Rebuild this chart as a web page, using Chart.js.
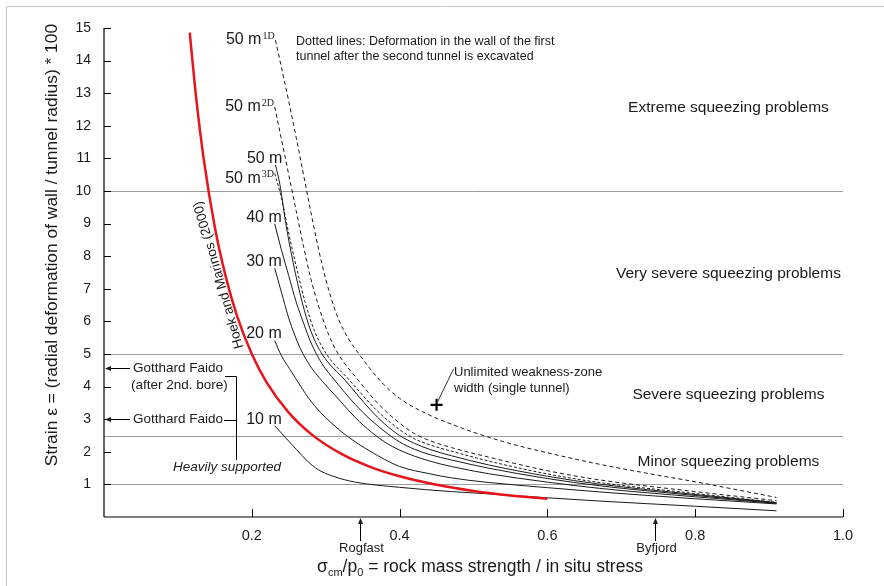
<!DOCTYPE html>
<html>
<head>
<meta charset="utf-8">
<script src="https://cdn.jsdelivr.net/npm/chart.js@4.4.1/dist/chart.umd.min.js"></script>
<style>
  html, body { margin: 0; padding: 0; background: #fff; }
  #wrap { width: 884px; height: 586px; }
</style>
</head>
<body>
<div id="wrap"><canvas id="chart" width="884" height="586"></canvas></div>
<script>
// values (x = sigma_cm/p0, y = strain %)
const xRed = [0.116, 0.125, 0.135, 0.15, 0.165, 0.18, 0.2, 0.22, 0.25, 0.28, 0.32, 0.36, 0.4, 0.45, 0.5, 0.55, 0.6];
const yRed = [14.86, 12.8, 10.97, 8.89, 7.35, 6.17, 5.0, 4.13, 3.2, 2.55, 1.95, 1.54, 1.25, 0.99, 0.8, 0.66, 0.56];

const x10 = [0.231, 0.245, 0.26, 0.275, 0.29, 0.31, 0.34, 0.4, 0.47, 0.52, 0.6, 0.67, 0.8, 0.91];
const y10 = [2.80, 2.45, 2.08, 1.72, 1.45, 1.25, 1.07, 0.91, 0.78, 0.71, 0.59, 0.49, 0.33, 0.19];

const x20 = [0.231, 0.24, 0.251, 0.265, 0.28, 0.3, 0.328, 0.36, 0.4, 0.44, 0.47, 0.52, 0.6, 0.67, 0.8, 0.91];
const y20 = [5.41, 4.95, 4.55, 4.05, 3.55, 3.05, 2.5, 2.02, 1.55, 1.33, 1.2, 1.06, 0.9, 0.77, 0.56, 0.40];

const x30 = [0.231, 0.24, 0.25, 0.265, 0.28, 0.296, 0.32, 0.34, 0.362, 0.38, 0.4, 0.44, 0.47, 0.52, 0.6, 0.67, 0.8, 0.91];
const y30 = [7.63, 6.9, 6.1, 5.2, 4.6, 4.15, 3.55, 3.05, 2.6, 2.3, 2.05, 1.72, 1.55, 1.33, 1.07, 0.88, 0.62, 0.42];

const x40 = [0.231, 0.24, 0.25, 0.26, 0.27, 0.28, 0.295, 0.312, 0.34, 0.36, 0.384, 0.4, 0.42, 0.44, 0.47, 0.52, 0.6, 0.67, 0.8, 0.91];
const y40 = [8.99, 8.2, 7.4, 6.6, 5.95, 5.35, 4.7, 4.2, 3.45, 3.0, 2.55, 2.3, 2.08, 1.92, 1.75, 1.5, 1.18, 0.96, 0.66, 0.43];

const x50 = [0.232, 0.238, 0.246, 0.256, 0.268, 0.28, 0.295, 0.326, 0.36, 0.38, 0.4, 0.42, 0.44, 0.47, 0.52, 0.6, 0.67, 0.8, 0.91];
const y50 = [10.8, 10.2, 9.0, 7.8, 6.6, 5.7, 5.0, 4.2, 3.3, 2.85, 2.5, 2.26, 2.08, 1.88, 1.6, 1.25, 1.01, 0.69, 0.44];

const x50_3D = [0.231, 0.24, 0.25, 0.26, 0.272, 0.285, 0.301, 0.332, 0.37, 0.4, 0.42, 0.44, 0.47, 0.52, 0.6, 0.67, 0.8, 0.91];
const y50_3D = [10.54, 9.8, 8.7, 7.7, 6.6, 5.7, 5.0, 4.2, 3.25, 2.68, 2.4, 2.22, 2.02, 1.72, 1.32, 1.06, 0.72, 0.45];

const x50_2D = [0.231, 0.24, 0.25, 0.26, 0.27, 0.28, 0.29, 0.303, 0.317, 0.344, 0.37, 0.4, 0.42, 0.44, 0.47, 0.52, 0.6, 0.67, 0.8, 0.91];
const y50_2D = [12.58, 11.6, 10.5, 9.4, 8.3, 7.3, 6.5, 5.65, 5.0, 4.2, 3.5, 2.88, 2.56, 2.35, 2.13, 1.84, 1.42, 1.14, 0.78, 0.5];

const x50_1D = [0.232, 0.24, 0.25, 0.26, 0.27, 0.28, 0.29, 0.3, 0.315, 0.33, 0.345, 0.373, 0.4, 0.44, 0.47, 0.5, 0.55, 0.6, 0.67, 0.75, 0.8, 0.86, 0.91];
const y50_1D = [14.63, 13.8, 12.75, 11.65, 10.5, 9.35, 8.25, 7.3, 6.2, 5.5, 5.0, 4.2, 3.64, 3.13, 2.85, 2.6, 2.25, 1.97, 1.62, 1.28, 1.08, 0.82, 0.6];

// single tunnel, unlimited weakness-zone width
const weakZoneX = [0.45];
const weakZoneY = [3.44];

const zoneLimits = [1, 2.5, 5, 10];
const zoneNames = ["Minor squeezing problems", "Severe squeezing problems", "Very severe squeezing problems", "Extreme squeezing problems"];

const gotthardStrain = [4.56, 3.0];
const siteNames = ["Rogfast", "Byfjord"];
const siteRatio = [0.346, 0.746];

const FONT = 'Arial, "Liberation Sans", sans-serif';
const INK = "#1a1a1a";

function pts(xs, ys) {
	return xs.map((x, i) => ({ x: x, y: ys[i] }));
}

function curve(label, xs, ys, color, width, dash) {
	return {
		label: label,
		data: pts(xs, ys),
		showLine: true,
		borderColor: color,
		borderWidth: width,
		borderDash: dash,
		pointRadius: 0,
		cubicInterpolationMode: "monotone",
		fill: false,
	};
}

const datasets = [
	curve("Hoek and Marinos (2000)", xRed, yRed, "#e8141c", 2.5, []),
	curve("10 m", x10, y10, INK, 1, []),
	curve("20 m", x20, y20, INK, 1, []),
	curve("30 m", x30, y30, INK, 1, []),
	curve("40 m", x40, y40, INK, 1, []),
	curve("50 m", x50, y50, INK, 1, []),
	curve("50 m 3D", x50_3D, y50_3D, INK, 1, [3, 2]),
	curve("50 m 2D", x50_2D, y50_2D, INK, 1, [4, 3]),
	curve("50 m 1D", x50_1D, y50_1D, INK, 1, [4, 3]),
	{
		label: "Unlimited weakness-zone width",
		data: pts(weakZoneX, weakZoneY),
		pointStyle: "cross",
		pointRadius: 6,
		borderColor: "#000",
		borderWidth: 2.2,
		showLine: false,
	},
];

function line(ctx, x1, y1, x2, y2) {
	ctx.beginPath();
	ctx.moveTo(x1, y1);
	ctx.lineTo(x2, y2);
	ctx.stroke();
}

function arrowHead(ctx, x, y, dir) {
	// dir: "left" or "up"
	ctx.beginPath();
	if (dir === "left") {
		ctx.moveTo(x, y);
		ctx.lineTo(x + 6, y - 2.5);
		ctx.lineTo(x + 6, y + 2.5);
	} else {
		ctx.moveTo(x, y);
		ctx.lineTo(x - 2.5, y + 6);
		ctx.lineTo(x + 2.5, y + 6);
	}
	ctx.closePath();
	ctx.fill();
}

function text(ctx, str, x, y, size, align, style) {
	ctx.font = (style || "") + " " + size + "px " + FONT;
	ctx.textAlign = align || "left";
	ctx.textBaseline = "middle";
	ctx.fillText(str, x, y);
}

function supLabel(ctx, main, sup, rightX, y) {
	text(ctx, main, rightX, y, 16, "right");
	ctx.font = '10px "Liberation Serif", "Times New Roman", serif';
	ctx.textAlign = "left";
	ctx.fillText(sup, rightX + 1, y - 4);
}

const figurePlugin = {
	id: "figure",
	beforeDatasetsDraw(chart) {
		const { ctx, chartArea: a, scales } = chart;
		const y = scales.y;
		ctx.save();
		// frame of the figure
		ctx.strokeStyle = "#c4c4c4";
		ctx.lineWidth = 1;
		line(ctx, 6.5, 6.5, 884, 6.5);
		line(ctx, 6.5, 6.5, 6.5, 586);
		// squeezing class boundaries
		ctx.strokeStyle = "#9c9c9c";
		zoneLimits.forEach(v => {
			const py = Math.round(y.getPixelForValue(v)) + 0.5;
			line(ctx, a.left, py, a.right, py);
		});
		ctx.restore();
	},
	afterDraw(chart) {
		const { ctx, chartArea: a, scales } = chart;
		const x = scales.x;
		const y = scales.y;
		ctx.save();
		ctx.fillStyle = INK;
		ctx.strokeStyle = "#000";

		// axes and inward ticks
		ctx.lineWidth = 1.2;
		line(ctx, a.left, a.top, a.left, a.bottom);
		line(ctx, a.left, a.bottom, a.right, a.bottom);
		ctx.lineWidth = 1;
		y.ticks.forEach(t => {
			if (t.value === 0) return;
			const py = Math.round(y.getPixelForValue(t.value)) + 0.5;
			line(ctx, a.left, py, a.left + 7, py);
		});
		x.ticks.forEach(t => {
			if (t.value === 0) return;
			const px = Math.round(x.getPixelForValue(t.value)) + 0.5;
			line(ctx, px, a.bottom, px, a.bottom - 8);
		});

		// axis titles
		ctx.save();
		ctx.translate(52, 245);
		ctx.rotate(-Math.PI / 2);
		text(ctx, "Strain \u03b5 = (radial deformation of wall / tunnel radius) * 100", 0, 0, 17.4, "center");
		ctx.restore();

		const parts = [
			["\u03c3", 17.5, 0], ["cm", 11, 4], ["/p", 17.5, 0], ["0", 11, 4],
			[" = rock mass strength / in situ stress", 17.5, 0],
		];
		let total = 0;
		parts.forEach(p => { ctx.font = p[1] + "px " + FONT; total += ctx.measureText(p[0]).width; });
		let cx = 480 - total / 2;
		ctx.textAlign = "left";
		ctx.textBaseline = "alphabetic";
		parts.forEach(p => {
			ctx.font = p[1] + "px " + FONT;
			ctx.fillText(p[0], cx, 572 + p[2]);
			cx += ctx.measureText(p[0]).width;
		});

		// site markers below the x axis
		siteNames.forEach((name, i) => {
			const px = Math.round(x.getPixelForValue(siteRatio[i])) + 0.5;
			line(ctx, px, a.bottom + 3, px, a.bottom + 24);
			arrowHead(ctx, px, a.bottom + 1, "up");
			text(ctx, name, px + 1, a.bottom + 31, 13, "center");
		});

		// squeezing class names
		const zx = x.getPixelForValue(0.845);
		const zoneY = [1.69, 3.74, 7.45, 12.55];
		zoneNames.forEach((n, i) => text(ctx, n, zx, y.getPixelForValue(zoneY[i]), 15.5, "center"));

		// curve labels at the start of each curve
		const start = i => chart.getDatasetMeta(i).data[0];
		const plain = [[1, "10 m", -6], [2, "20 m", -7.5], [3, "30 m", -7], [4, "40 m", -6], [5, "50 m", -6]];
		plain.forEach(([i, s, dy]) => {
			const p = start(i);
			text(ctx, s, p.x + 7, p.y + dy, 16, "right");
		});
		let p = start(6);
		supLabel(ctx, "50 m", "3D", p.x - 14, p.y + 5);
		p = start(7);
		supLabel(ctx, "50 m", "2D", p.x - 14, p.y);
		p = start(8);
		supLabel(ctx, "50 m", "1D", p.x - 14, p.y);

		text(ctx, "Dotted lines: Deformation in the wall of the first", 296, 42, 12.5);
		text(ctx, "tunnel after the second tunnel is excavated", 296, 57, 12.5);

		// Hoek and Marinos label along the red curve
		const hx0 = x.getPixelForValue(0.1885), hy0 = y.getPixelForValue(5.21);
		const hx1 = x.getPixelForValue(0.1305), hy1 = y.getPixelForValue(9.79);
		ctx.save();
		ctx.translate(hx0, hy0);
		ctx.rotate(Math.atan2(hy1 - hy0, hx1 - hx0));
		ctx.font = "13.5px " + FONT;
		ctx.textAlign = "left";
		ctx.textBaseline = "alphabetic";
		ctx.fillText("Hoek and Marinos (2000)", 0, 0);
		ctx.restore();

		// Gotthard Faido
		const g1 = Math.round(y.getPixelForValue(gotthardStrain[0])) + 0.5;
		const g2 = Math.round(y.getPixelForValue(gotthardStrain[1])) + 0.5;
		ctx.lineWidth = 1;
		line(ctx, a.left + 5, g1, a.left + 26, g1);
		arrowHead(ctx, a.left + 1, g1, "left");
		line(ctx, a.left + 5, g2, a.left + 26, g2);
		arrowHead(ctx, a.left + 1, g2, "left");
		text(ctx, "Gotthard Faido", 133, g1, 13.5);
		text(ctx, "(after 2nd. bore)", 131, g1 + 17, 13.5);
		text(ctx, "Gotthard Faido", 133, g2, 13.5);
		line(ctx, 225, g1 + 8, 236.5, g1 + 8);
		line(ctx, 236.5, g1 + 8, 236.5, 460);
		line(ctx, 224, g2 + 1, 236.5, g2 + 1);
		text(ctx, "Heavily supported", 227, 467, 13.5, "center", "italic");

		// unlimited weakness zone note
		const wz = chart.getDatasetMeta(9).data[0];
		ctx.lineWidth = 0.8;
		line(ctx, wz.x + 1, wz.y - 3, wz.x + 17, wz.y - 36);
		text(ctx, "Unlimited weakness-zone", 454, 372, 13);
		text(ctx, "width (single tunnel)", 454, 388, 13);
		ctx.restore();
	},
};

new Chart(document.getElementById("chart"), {
	type: "scatter",
	data: { datasets: datasets },
	options: {
		responsive: false,
		animation: false,
		layout: { padding: { top: 28, right: 41, left: 0, bottom: 0 } },
		plugins: { legend: { display: false }, tooltip: { enabled: false } },
		scales: {
			x: {
				type: "linear",
				min: 0,
				max: 1,
				grid: { display: false, drawTicks: false },
				border: { display: false },
				ticks: {
					stepSize: 0.2,
					padding: 10,
					color: INK,
					font: { size: 14.5, family: FONT },
					callback: v => (v === 0 ? "" : v.toFixed(1)),
				},
				afterFit: s => { s.height = 69; },
			},
			y: {
				type: "linear",
				min: 0,
				max: 15,
				grid: { display: false, drawTicks: false },
				border: { display: false },
				ticks: {
					stepSize: 1,
					padding: 13,
					color: INK,
					font: { size: 14, family: FONT },
					callback: v => (v === 0 ? "" : v),
				},
				afterFit: s => { s.width = 104; },
			},
		},
	},
	plugins: [figurePlugin],
});
</script>
</body>
</html>
